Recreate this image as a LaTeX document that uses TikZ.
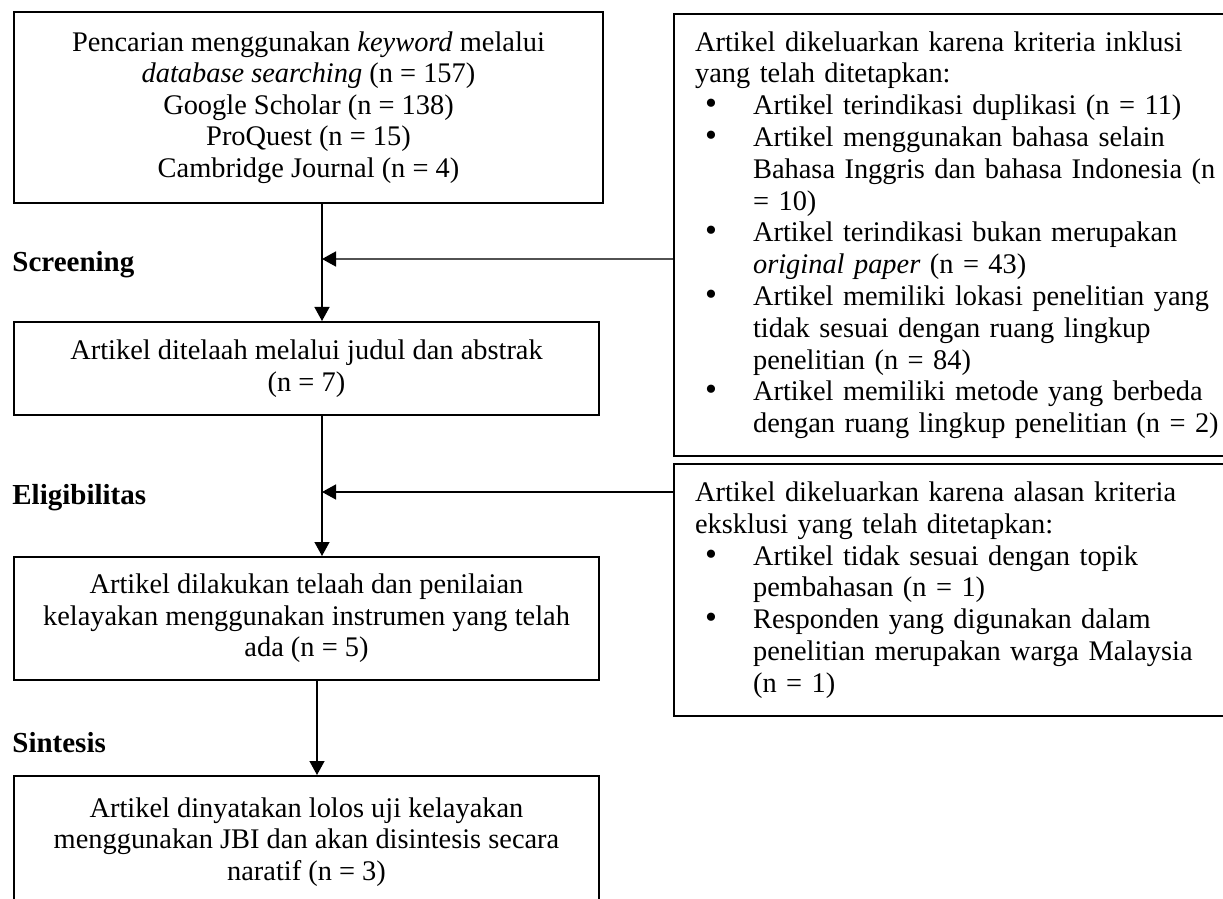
\documentclass[tikz,border=0pt]{standalone}
\usepackage{fontspec}
\setmainfont{Liberation Serif}
\usetikzlibrary{positioning, arrows.meta}

\newcommand{\bul}{\makebox[29pt][l]{\hspace{5pt}\smash{\scalebox{1.2}{\textbullet}}}}
\newcommand{\ind}{\hspace*{29pt}}

\begin{document}
\begin{tikzpicture}[
  x=0.5pt, y=-0.5pt,
  font=\fontsize{14.2}{15.75}\selectfont,
  flowbox/.style={draw, line width=1pt, align=center, inner sep=0pt, minimum width=292.5pt},
  sidebox/.style={draw, line width=1.1pt, align=left, anchor=north west,
    font=\fontsize{14.2}{15.9}\selectfont,
    inner xsep=10.5pt, inner ysep=0pt, text width=320pt},
  stage/.style={font=\fontsize{14.5}{16}\selectfont\bfseries, anchor=west, inner sep=0pt},
  arrow/.style={-{Triangle[length=7pt, width=7.5pt, black]}, line width=0.65pt}
]
  \useasboundingbox (0,0) rectangle (1223,899);
  \clip (0,0) rectangle (1223,899);

  % left column
  \node[flowbox, minimum width=294.5pt, minimum height=95.5pt] (search) at (308.5,107.5)
    {Pencarian menggunakan \textit{keyword} melalui\\
     \textit{database searching} (n = 157)\\
     Google Scholar (n = 138)\\
     ProQuest (n = 15)\\
     Cambridge Journal (n = 4)};
  \node[flowbox, minimum height=46.5pt] (telaah) at (306.5,368.5)
    {Artikel ditelaah melalui judul dan abstrak\\ (n = 7)};
  \node[flowbox, minimum height=61.5pt] (nilai) at (306.5,618.5)
    {Artikel dilakukan telaah dan penilaian\\
     kelayakan menggunakan instrumen yang telah\\
     ada (n = 5)};
  \node[flowbox, minimum height=66pt] (sintesis) at (306.5,842)
    {Artikel dinyatakan lolos uji kelayakan\\
     menggunakan JBI dan akan disintesis secara\\
     naratif (n = 3)};

  % stages
  \node[stage] (screening) at (12,265) {Screening};
  \node[stage] (eligibel) at (12,498) {Eligibilitas};
  \node[stage] (sintesislab) at (12,743) {Sintesis};

  % right column
  \node[sidebox, minimum height=221pt] (inklusi) at (673,13)
    {Artikel dikeluarkan karena kriteria inklusi\\
     yang telah ditetapkan:\\
     \bul Artikel terindikasi duplikasi (n = 11)\\
     \bul Artikel menggunakan bahasa selain\\
     \ind Bahasa Inggris dan bahasa Indonesia (n\\
     \ind = 10)\\
     \bul Artikel terindikasi bukan merupakan\\
     \ind \textit{original paper} (n = 43)\\
     \bul Artikel memiliki lokasi penelitian yang\\
     \ind tidak sesuai dengan ruang lingkup\\
     \ind penelitian (n = 84)\\
     \bul Artikel memiliki metode yang berbeda\\
     \ind dengan ruang lingkup penelitian (n = 2)};
  \node[sidebox, minimum height=126pt] (eksklusi) at (673,463)
    {Artikel dikeluarkan karena alasan kriteria\\
     eksklusi yang telah ditetapkan:\\
     \bul Artikel tidak sesuai dengan topik\\
     \ind pembahasan (n = 1)\\
     \bul Responden yang digunakan dalam\\
     \ind penelitian merupakan warga Malaysia\\
     \ind (n = 1)};

  % connectors
  \coordinate (spine) at (322,0);
  \coordinate (spinelow) at (317,0);
  \coordinate (cutA) at (322,259);
  \coordinate (cutB) at (322,492);
  \draw[arrow] (search.south -| spine) -- (telaah.north -| spine);
  \draw[arrow] (telaah.south -| spine) -- (nilai.north -| spine);
  \draw[arrow] (nilai.south -| spinelow) -- (sintesis.north -| spinelow);
  \draw[arrow, draw=black!68, line width=0.8pt] (inklusi.west |- cutA) -- (cutA);
  \draw[arrow] (eksklusi.west |- cutB) -- (cutB);
\end{tikzpicture}
\end{document}
